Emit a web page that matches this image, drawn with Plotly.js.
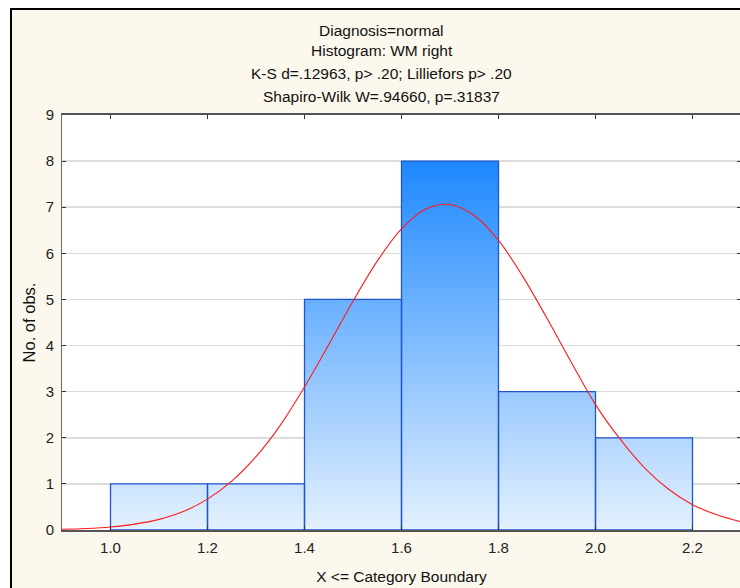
<!DOCTYPE html>
<html>
<head>
<meta charset="utf-8">
<script src="https://cdn.plot.ly/plotly-3.0.1.min.js"></script>
<style>
  html, body { margin: 0; padding: 0; background: #ffffff; overflow: hidden; width: 740px; height: 588px; }
  #frame { position: absolute; left: 10px; top: 8px; border-left: 2px solid #000; border-top: 2px solid #000; }
  #chart { width: 730px; height: 578px; }
</style>
</head>
<body>
<div id="frame"><div id="chart"></div></div>
<script>
// Histogram of WM right (Diagnosis = normal): bin edges and counts
const binEdges = [1.0, 1.2, 1.4, 1.6, 1.8, 2.0, 2.2];
const binCounts = [1, 1, 5, 8, 3, 2];

// Fitted normal curve (expected counts per bin width)
const curveX = [0.90, 0.95, 1.00, 1.05, 1.10, 1.15, 1.20, 1.25, 1.30, 1.35, 1.40, 1.45, 1.50,
                1.55, 1.60, 1.65, 1.70, 1.75, 1.80, 1.85, 1.90, 1.95, 2.00, 2.05, 2.10, 2.15,
                2.20, 2.25, 2.30];
const curveY = [0.015, 0.033, 0.066, 0.127, 0.23, 0.40, 0.67, 1.06, 1.59, 2.27, 3.10, 4.02, 4.96,
                5.83, 6.53, 6.96, 7.06, 6.82, 6.28, 5.50, 4.59, 3.64, 2.72, 1.98, 1.36, 0.89,
                0.55, 0.33, 0.18];

// Tick labels
const xTicks = [1.0, 1.2, 1.4, 1.6, 1.8, 2.0, 2.2];
const xTickText = ['1.0', '1.2', '1.4', '1.6', '1.8', '2.0', '2.2'];
const yTicks = [0, 1, 2, 3, 4, 5, 6, 7, 8, 9];

const titleLines = [
  'Diagnosis=normal',
  'Histogram: WM right',
  'K-S d=.12963, p> .20; Lilliefors p> .20',
  'Shapiro-Wilk W=.94660, p=.31837'
];

// step outline of the histogram, used for the gradient fill
const stepX = binEdges.slice();
const stepY = binCounts.concat([binCounts[binCounts.length - 1]]);

// closed rectangle outline for every bin (null breaks between bins)
const boxX = [], boxY = [];
binCounts.forEach((c, i) => {
  const x0 = binEdges[i], x1 = binEdges[i + 1];
  boxX.push(x0, x0, x1, x1, x0, null);
  boxY.push(0, c, c, 0, 0, null);
});

const FONT = 'Liberation Sans, Arial, sans-serif';

const traces = [
  {
    type: 'scatter', mode: 'lines',
    x: stepX, y: stepY,
    line: { shape: 'hv', width: 0, color: 'rgba(0,0,0,0)' },
    fill: 'tozeroy',
    fillgradient: {
      type: 'vertical',
      colorscale: [[0, '#e4f1fe'], [1, '#1e88ff']],
      start: 0, stop: 8
    },
    hoverinfo: 'skip', showlegend: false
  },
  {
    type: 'scatter', mode: 'lines',
    x: boxX, y: boxY, connectgaps: false,
    line: { color: '#1f56cc', width: 1.3 },
    showlegend: false
  },
  {
    type: 'scatter', mode: 'lines',
    x: curveX, y: curveY,
    line: { color: '#ff1a1a', width: 1.1, shape: 'spline', smoothing: 1 },
    showlegend: false
  }
];

// title block, centred on the graph window
const annotations = titleLines.map((t, i) => ({
  text: t, xref: 'paper', yref: 'paper', x: 0.471, xanchor: 'center',
  y: 1, yshift: [85, 65, 42, 19][i], yanchor: 'middle',
  showarrow: false, font: { family: FONT, size: 15.5, color: '#111' }
}));

const layout = {
  width: 730, height: 578,
  margin: { l: 50, r: 1, t: 105, b: 58 },
  paper_bgcolor: '#fdf8ed',
  plot_bgcolor: '#ffffff',
  showlegend: false,
  font: { family: FONT, size: 15, color: '#222' },
  annotations: annotations,
  xaxis: {
    range: [0.9, 2.3],
    tickvals: xTicks, ticktext: xTickText,
    ticks: 'inside', ticklen: 4, tickcolor: '#333', tickwidth: 1,
    ticklabelstandoff: 3,
    showline: true, linecolor: '#555555', linewidth: 2, mirror: 'ticks',
    showgrid: false, zeroline: false,
    tickfont: { family: FONT, size: 15, color: '#222' },
    title: { text: 'X <= Category Boundary', font: { family: FONT, size: 15.5, color: '#111' }, standoff: 16 }
  },
  yaxis: {
    range: [0, 9],
    tickvals: yTicks,
    ticks: 'inside', ticklen: 4, tickcolor: '#333', tickwidth: 1,
    ticklabelstandoff: 4,
    showline: true, linecolor: '#6a6a6a', linewidth: 1, mirror: 'ticks',
    showgrid: true, gridcolor: '#dcdcdc', gridwidth: 1.5,
    zeroline: false,
    tickfont: { family: FONT, size: 15, color: '#222' },
    title: { text: 'No. of obs.', font: { family: FONT, size: 16.5, color: '#111' }, standoff: 5 }
  }
};

Plotly.newPlot('chart', traces, layout, { displayModeBar: false, staticPlot: true });
</script>
</body>
</html>
